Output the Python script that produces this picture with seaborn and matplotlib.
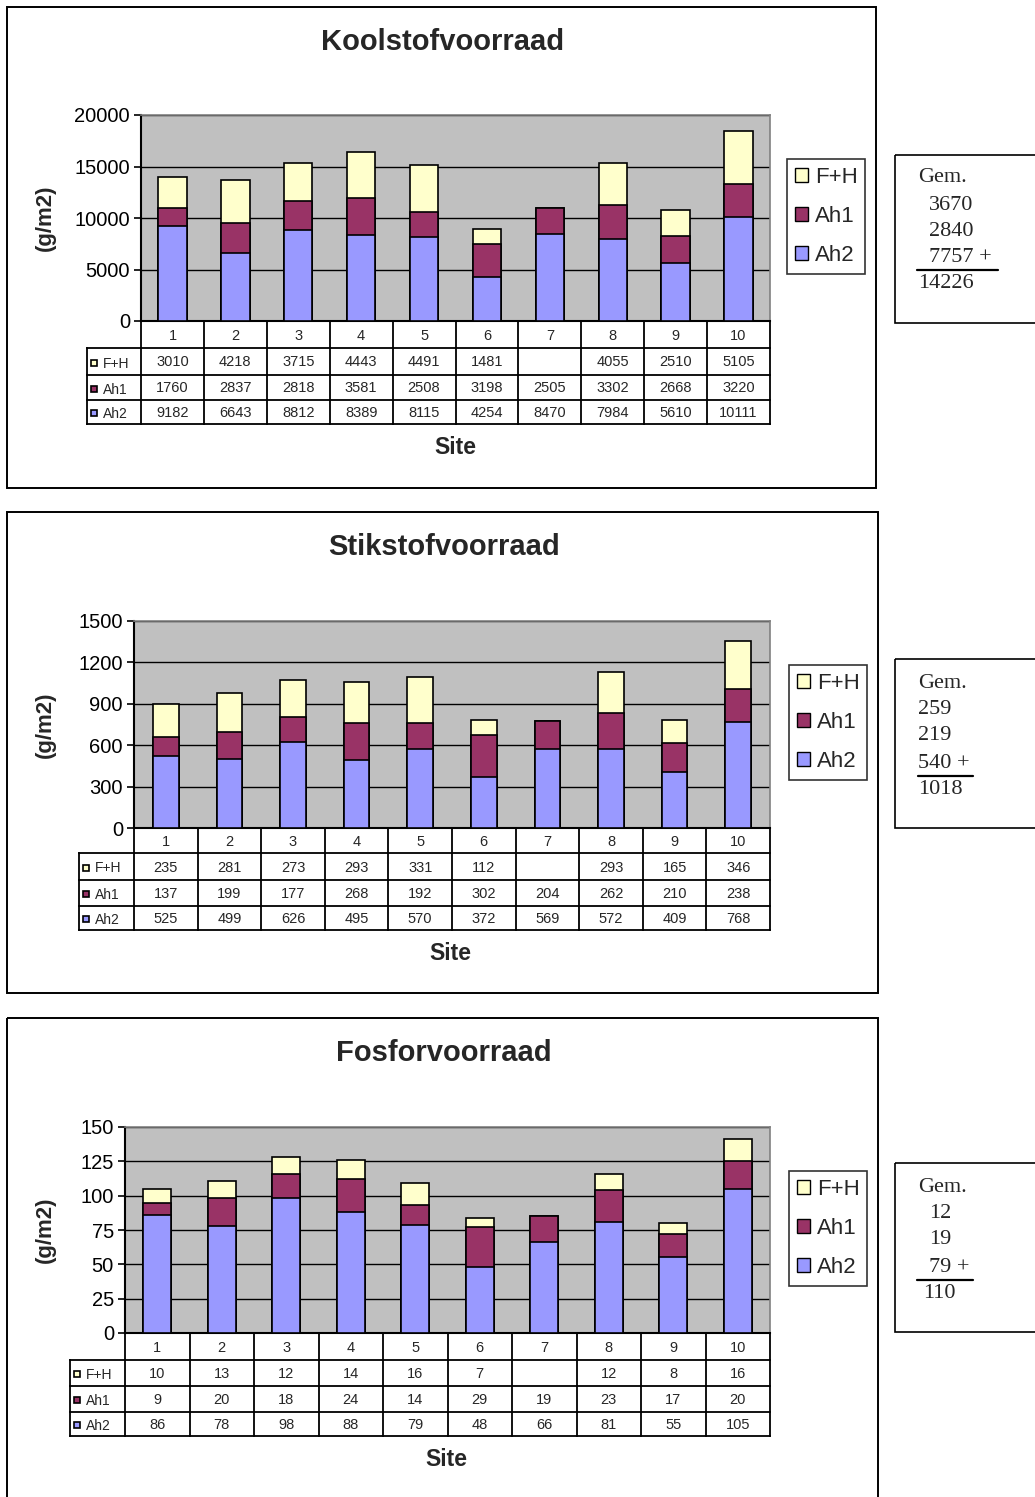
import numpy as np
import pandas as pd
import matplotlib
matplotlib.use("Agg")
import matplotlib.pyplot as plt
import seaborn as sns
from matplotlib.patches import Rectangle, Patch

# ---------------- data ----------------
sites = [str(i) for i in range(1, 11)]
layer_names = ["F+H", "Ah1", "Ah2"]

c_fh = [3010, 4218, 3715, 4443, 4491, 1481, None, 4055, 2510, 5105]
c_ah1 = [1760, 2837, 2818, 3581, 2508, 3198, 2505, 3302, 2668, 3220]
c_ah2 = [9182, 6643, 8812, 8389, 8115, 4254, 8470, 7984, 5610, 10111]

n_fh = [235, 281, 273, 293, 331, 112, None, 293, 165, 346]
n_ah1 = [137, 199, 177, 268, 192, 302, 204, 262, 210, 238]
n_ah2 = [525, 499, 626, 495, 570, 372, 569, 572, 409, 768]

p_fh = [10, 13, 12, 14, 16, 7, None, 12, 8, 16]
p_ah1 = [9, 20, 18, 24, 14, 29, 19, 23, 17, 20]
p_ah2 = [86, 78, 98, 88, 79, 48, 66, 81, 55, 105]

titles = ["Koolstofvoorraad", "Stikstofvoorraad", "Fosforvoorraad"]
yticks_c = [0, 5000, 10000, 15000, 20000]
yticks_n = [0, 300, 600, 900, 1200, 1500]
yticks_p = [0, 25, 50, 75, 100, 125, 150]

gem_c = ["3670", "2840", "7757 +", "14226"]
gem_n = ["259", "219", "540 +", "1018"]
gem_p = ["12", "19", "79 +", "110"]

COL = {"F+H": "#FFFFCC", "Ah1": "#993366", "Ah2": "#9999FF"}

# ---------------- style ----------------
sns.set_style("ticks")
plt.rcParams["font.family"] = ["Liberation Sans", "DejaVu Sans"]

W, H = 1035, 1497
fig = plt.figure(figsize=(W / 100, H / 100), dpi=100)
canvas = fig.add_axes([0, 0, 1, 1], zorder=0)
canvas.set_xlim(0, W)
canvas.set_ylim(H, 0)
canvas.axis("off")


def add_ax(x0, y0, x1, y1):
    return fig.add_axes([x0 / W, 1 - y1 / H, (x1 - x0) / W, (y1 - y0) / H], zorder=2)


panels = [
    dict(fh=c_fh, ah1=c_ah1, ah2=c_ah2, title=titles[0], yticks=yticks_c, gem=gem_c,
         box=(7, 7, 876, 488), plot=(141, 115, 770, 321), head=87,
         rows=(321, 348, 375, 400, 424), ty=42, tx=443, ly=218, sy=448, sx=455,
         leg=(787, 159), gbox=(895, 155, 1040, 323), bw=0.45,
         gx=[918, 929, 929, 929, 918], gy=[178, 205, 231, 258, 284], ul=(917, 998, 270)),
    dict(fh=n_fh, ah1=n_ah1, ah2=n_ah2, title=titles[1], yticks=yticks_n, gem=gem_n,
         box=(7, 512, 878, 993), plot=(134, 621, 770, 828), head=79,
         rows=(828, 853, 880, 906, 930), ty=547, tx=444, ly=725, sy=954, sx=450,
         leg=(789, 665), gbox=(895, 659, 1040, 828), bw=0.40,
         gx=[918, 918, 918, 918, 918], gy=[683, 710, 736, 764, 790], ul=(918, 973, 776)),
    dict(fh=p_fh, ah1=p_ah1, ah2=p_ah2, title=titles[2], yticks=yticks_p, gem=gem_p,
         box=(7, 1018, 878, 1510), plot=(125, 1127, 770, 1333), head=70,
         rows=(1333, 1360, 1386, 1412, 1436), ty=1053, tx=444, ly=1230, sy=1460, sx=446,
         leg=(789, 1171), gbox=(895, 1163, 1040, 1332), bw=0.43,
         gx=[918, 929, 929, 929, 923], gy=[1187, 1214, 1240, 1268, 1294], ul=(917, 973, 1280)),
]

for p in panels:
    fh = np.array([0 if v is None else v for v in p["fh"]], dtype=float)
    ah1 = np.array(p["ah1"], dtype=float)
    ah2 = np.array(p["ah2"], dtype=float)
    df = pd.DataFrame({"site": sites, "tot3": ah2 + ah1 + fh, "tot2": ah2 + ah1, "ah2": ah2})

    # outer box
    bx0, by0, bx1, by1 = p["box"]
    canvas.add_patch(Rectangle((bx0, by0), bx1 - bx0, by1 - by0, fill=False,
                               edgecolor="black", lw=1.4, clip_on=False))
    canvas.text(p["tx"], p["ty"], p["title"], ha="center", va="center",
                fontsize=21, fontweight="bold")
    canvas.text(45, p["ly"], "(g/m2)", ha="center", va="center", rotation=90,
                fontsize=16, fontweight="bold")
    canvas.text(p["sx"], p["sy"], "Site", ha="center", va="center",
                fontsize=16.5, fontweight="bold")

    # plot area
    x0, y0, x1, y1 = p["plot"]
    ax = add_ax(x0, y0, x1, y1)
    for col, key in [("tot3", "F+H"), ("tot2", "Ah1"), ("ah2", "Ah2")]:
        sns.barplot(data=df, x="site", y=col, color=COL[key], edgecolor="black",
                    linewidth=1.2, width=p["bw"], saturation=1, errorbar=None, ax=ax,
                    zorder=3)
    ax.set_xlim(-0.5, 9.5)
    ax.set_ylim(0, p["yticks"][-1])
    ax.set_facecolor("#C0C0C0")
    ax.set_yticks(p["yticks"])
    ax.set_yticklabels([str(t) for t in p["yticks"]])
    ax.yaxis.grid(True, color="black", lw=1.0)
    ax.set_axisbelow(True)
    ax.set_xticks([])
    ax.set_xlabel("")
    ax.set_ylabel("")
    ax.tick_params(axis="y", left=True, length=5, width=1.2, direction="out",
                   labelsize=14.5, pad=3, colors="black")
    for s in ["left", "bottom"]:
        ax.spines[s].set_color("black")
        ax.spines[s].set_linewidth(1.5)
    for s in ["top", "right"]:
        ax.spines[s].set_color("#808080")
        ax.spines[s].set_linewidth(1.2)

    # legend
    handles = [Patch(facecolor=COL[k], edgecolor="black", lw=1.0) for k in layer_names]
    leg = ax.legend(handles, layer_names, loc="upper left",
                    bbox_to_anchor=(p["leg"][0] / W, 1 - p["leg"][1] / H),
                    bbox_transform=fig.transFigure, fontsize=16, frameon=True,
                    fancybox=False, edgecolor="black", handlelength=0.6,
                    handleheight=0.6, handletextpad=0.3, labelspacing=0.82,
                    borderpad=0.35, borderaxespad=0)
    leg.get_frame().set_linewidth(1.2)

    # data table
    head = p["head"]
    r = p["rows"]
    xs = np.linspace(x0, x1, 11)
    lw = 1.3
    for yy in r[1:]:
        canvas.plot([head, x1], [yy, yy], color="black", lw=lw, solid_capstyle="projecting")
    for xx in xs:
        canvas.plot([xx, xx], [r[0], r[4]], color="black", lw=lw, solid_capstyle="projecting")
    canvas.plot([head, head], [r[1], r[4]], color="black", lw=lw, solid_capstyle="projecting")
    cx = (xs[:-1] + xs[1:]) / 2
    for i, s in enumerate(sites):
        canvas.text(cx[i], (r[0] + r[1]) / 2 + 1, s, ha="center", va="center", fontsize=10.5)
    for j, (name, vals) in enumerate(zip(layer_names, [p["fh"], p["ah1"], p["ah2"]])):
        yc = (r[j + 1] + r[j + 2]) / 2 + 1
        canvas.add_patch(Rectangle((head + 4, yc - 3), 6, 6, facecolor=COL[name],
                                   edgecolor="black", lw=1.2))
        canvas.text(head + 16, yc + 1, name, ha="left", va="center", fontsize=10)
        for i, v in enumerate(vals):
            if v is not None:
                canvas.text(cx[i], yc, str(v), ha="center", va="center", fontsize=10.5)

    # Gem. box
    gx0, gy0, gx1, gy1 = p["gbox"]
    canvas.add_patch(Rectangle((gx0, gy0), gx1 - gx0, gy1 - gy0, fill=False,
                               edgecolor="black", lw=1.2, clip_on=False))
    lines = ["Gem."] + p["gem"]
    for k, t in enumerate(lines):
        canvas.text(p["gx"][k], p["gy"][k], t, ha="left", va="center", fontsize=16,
                    family=["Liberation Serif", "DejaVu Serif"])
    ux0, ux1, uy = p["ul"]
    canvas.plot([ux0, ux1], [uy, uy], color="black", lw=1.6)

fig.savefig("out.png", dpi=100)
